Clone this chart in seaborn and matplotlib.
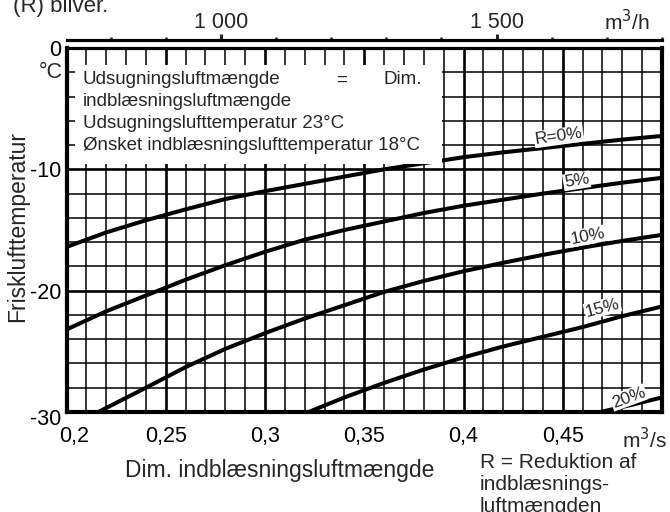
import numpy as np
import pandas as pd
import matplotlib
matplotlib.use("Agg")
import matplotlib.pyplot as plt
import matplotlib.transforms as mtransforms
import seaborn as sns
from matplotlib.ticker import MultipleLocator, FixedLocator, FixedFormatter
from matplotlib.patches import Rectangle

# ---------------- data ----------------
r0_x = [0.20, 0.22, 0.24, 0.26, 0.28, 0.30, 0.32, 0.34, 0.36, 0.38, 0.40, 0.42, 0.44, 0.46, 0.48, 0.50]
r0_y = [-16.4, -15.2, -14.2, -13.3, -12.45, -11.8, -11.2, -10.6, -10.0, -9.5, -9.0, -8.6, -8.25, -7.9, -7.55, -7.25]

r5_x = [0.20, 0.22, 0.24, 0.26, 0.28, 0.30, 0.32, 0.34, 0.36, 0.38, 0.40, 0.42, 0.44, 0.46, 0.48, 0.50]
r5_y = [-23.2, -21.7, -20.4, -19.1, -17.9, -16.8, -15.8, -15.0, -14.3, -13.6, -13.0, -12.5, -12.0, -11.55, -11.1, -10.7]

r10_x = [0.216, 0.24, 0.26, 0.28, 0.30, 0.32, 0.34, 0.36, 0.38, 0.40, 0.42, 0.44, 0.46, 0.48, 0.50]
r10_y = [-30.0, -28.0, -26.3, -24.8, -23.5, -22.3, -21.2, -20.1, -19.2, -18.4, -17.7, -17.05, -16.45, -15.9, -15.4]

r15_x = [0.322, 0.34, 0.36, 0.38, 0.40, 0.42, 0.44, 0.46, 0.48, 0.50]
r15_y = [-30.0, -28.8, -27.6, -26.5, -25.5, -24.6, -23.8, -23.0, -22.1, -21.3]

r20_x = [0.469, 0.485, 0.50]
r20_y = [-30.0, -29.4, -28.8]

curve_names = ["R=0%", "5%", "10%", "15%", "20%"]

x_ticks = [0.20, 0.25, 0.30, 0.35, 0.40, 0.45, 0.50]
x_ticklabels = ["0,2", "0,25", "0,3", "0,35", "0,4", "0,45", ""]
y_ticks = [0, -10, -20, -30]
y_ticklabels = ["0", "-10", "-20", "-30"]
top_ticks = [1000, 1500]
top_ticklabels = ["1 000", "1 500"]

# ---------------- styling ----------------
sns.set_style("white")
plt.rcParams["font.family"] = ["Liberation Sans", "DejaVu Sans"]
TICKFONT = ["Liberation Sans Narrow", "Liberation Sans", "DejaVu Sans"]

frames = []
for name, xs, ys in zip(curve_names, [r0_x, r5_x, r10_x, r15_x, r20_x],
                        [r0_y, r5_y, r10_y, r15_y, r20_y]):
    frames.append(pd.DataFrame({"flow": xs, "temp": ys, "R": name}))
df = pd.concat(frames, ignore_index=True)

fig = plt.figure(figsize=(6.7, 5.12), dpi=100)
L, R, T, B = 66.5, 662, 48, 412
ax = fig.add_axes([L / 670, 1 - B / 512, (R - L) / 670, (B - T) / 512])

sns.lineplot(data=df, x="flow", y="temp", hue="R", palette=["black"] * 5,
             linewidth=2.9, legend=False, sort=False, estimator=None,
             ax=ax, zorder=4)

ax.set_xlim(0.2, 0.5)
ax.set_ylim(-30, 0)
ax.xaxis.set_major_locator(FixedLocator(x_ticks))
ax.xaxis.set_major_formatter(FixedFormatter(x_ticklabels))
ax.xaxis.set_minor_locator(MultipleLocator(0.01))
ax.yaxis.set_major_locator(FixedLocator(y_ticks))
ax.yaxis.set_major_formatter(FixedFormatter(y_ticklabels))
ax.yaxis.set_minor_locator(MultipleLocator(2))
ax.set_axisbelow(True)
ax.grid(which="minor", color="black", linewidth=1.1)
ax.grid(which="major", color="black", linewidth=1.9)
ax.tick_params(which="both", length=0)
ax.tick_params(axis="x", pad=10)
ax.tick_params(axis="y", pad=4)
for lab in ax.get_xticklabels() + ax.get_yticklabels():
    lab.set_fontfamily(TICKFONT)
    lab.set_fontsize(15.5)
    lab.set_color("black")
# first x label sits a little to the right of its gridline, as in the reference
xl = ax.get_xticklabels()
xl[0].set_transform(xl[0].get_transform() +
                    mtransforms.ScaledTranslation(8 / 100, 0, fig.dpi_scale_trans))
yl = ax.get_yticklabels()
yl[-1].set_transform(yl[-1].get_transform() +
                     mtransforms.ScaledTranslation(0, -5 / 100, fig.dpi_scale_trans))

for s in ["left", "bottom", "right"]:
    ax.spines[s].set_linewidth(3.0)
    ax.spines[s].set_color("black")
ax.spines["top"].set_linewidth(2.3)
ax.spines["top"].set_color("black")

ax.set_xlabel("Dim. indblæsningsluftmængde", fontsize=16.5)
ax.xaxis.set_label_coords((280 - L) / (R - L), (B - 470) / (B - T))
ax.xaxis.label.set_va("center")
ax.set_ylabel("Frisklufttemperatur", fontsize=16.5)
ax.yaxis.set_label_coords((18 - L) / (R - L), (B - 227) / (B - T))
ax.yaxis.label.set_va("center")

# top axis in m3/h
ax2 = ax.twiny()
ax2.set_xlim(0.2 * 3600, 0.5 * 3600)
ax2.grid(False)
ax2.xaxis.set_major_locator(FixedLocator(top_ticks))
ax2.xaxis.set_major_formatter(FixedFormatter(top_ticklabels))
ax2.xaxis.set_minor_locator(MultipleLocator(100))
for s in ["left", "bottom", "right"]:
    ax2.spines[s].set_visible(False)
ax2.spines["top"].set_position(("outward", 5.5))
ax2.spines["top"].set_linewidth(2.3)
ax2.spines["top"].set_color("black")
ax2.tick_params(axis="x", which="major", length=4.5, width=2.2, direction="out", pad=1)
ax2.tick_params(axis="x", which="minor", length=2.5, width=1.8, direction="out")
for lab in ax2.get_xticklabels():
    lab.set_fontfamily(TICKFONT)
    lab.set_fontsize(15.5)

# info box
axf = lambda px: (px - L) / (R - L)
ayf = lambda py: (B - py) / (B - T)
ax.add_patch(Rectangle((axf(75), ayf(164)), axf(442) - axf(75), ayf(65) - ayf(164),
                       transform=ax.transAxes, facecolor="white", edgecolor="none", zorder=6))
tkw = dict(transform=ax.transAxes, fontsize=13.5, va="center", zorder=7)
ax.text(axf(83), ayf(80), "Udsugningsluftmængde", ha="left", **tkw)
ax.text(axf(342), ayf(80), "=", ha="center", **tkw)
ax.text(axf(422), ayf(80), "Dim.", ha="right", **tkw)
ax.text(axf(83), ayf(102), "indblæsningsluftmængde", ha="left", **tkw)
ax.text(axf(83), ayf(123), "Udsugningslufttemperatur 23°C", ha="left", **tkw)
ax.text(axf(83), ayf(146), "Ønsket indblæsningslufttemperatur 18°C", ha="left", **tkw)

# curve labels
label_pos = [(0.448, -7.3, 8), (0.457, -10.95, 9), (0.4626, -15.5, 11),
             (0.470, -21.4, 15), (0.4832, -28.8, 20)]
for name, (lx, ly, rot) in zip(curve_names, label_pos):
    ax.text(lx, ly, name, fontsize=12.5, ha="center", va="center", rotation=rot,
            rotation_mode="anchor", zorder=5,
            bbox=dict(facecolor="white", edgecolor="none", pad=0.6))

# figure-level texts
fig.text(13 / 670, 1 - 12 / 512, "(R) bliver.", fontsize=16, ha="left", va="baseline")
fig.text(627 / 670, 1 - 22 / 512, "m$^3$/h", fontsize=15, ha="center", va="center",
         family=TICKFONT)
fig.text(667 / 670, 1 - 440 / 512, "m$^3$/s", fontsize=15, ha="right", va="center",
         family=TICKFONT)
fig.text(63 / 670, 1 - 72 / 512, "°C", fontsize=15.5, ha="right", va="center", family=TICKFONT)
for txt, py in [("R = Reduktion af", 462), ("indblæsnings-", 485), ("luftmængden", 507)]:
    fig.text(480 / 670, 1 - py / 512, txt, fontsize=15, ha="left", va="center",
             family=TICKFONT)

fig.savefig("out.png", dpi=100)
